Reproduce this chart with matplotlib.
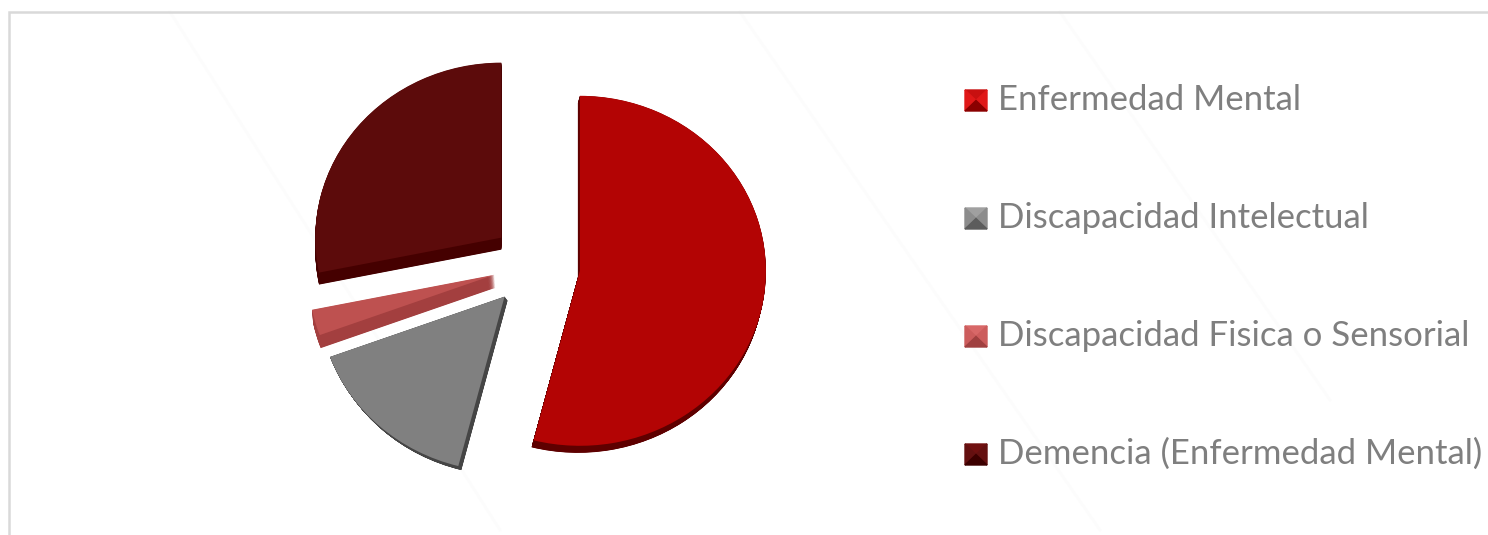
import matplotlib
matplotlib.use('Agg')
import matplotlib.pyplot as plt
from matplotlib.patches import Polygon

W, H = 1488, 535

# percent of the whole
labels = ['Enfermedad Mental', 'Discapacidad Intelectual',
          'Discapacidad Fisica o Sensorial', 'Demencia (Enfermedad Mental)']
values = [54.0, 15.4, 2.4, 28.2]

explode = [0.265, 0.22, 0.205, 0.22]
top_colors = ['#B30404', '#808080', '#BE5150', '#5C0B0B']
side_colors = ['#5E0000', '#454545', '#A33F3F', '#450000']
side_shift = [(-2, 7), (3, 4), (1, 13), (0, 12)]
nudge = [(0, 0), (1, 3), (0, 0), (2, -3)]
swatch_top = ['#C81010', '#A0A0A0', '#D86868', '#701010']
swatch_side = ['#E01818', '#8C8C8C', '#CC5C5C', '#641010']
swatch_bottom = ['#8A0000', '#5C5C5C', '#A04040', '#3C0000']
label_y = [99, 217, 335, 453]

fig = plt.figure(figsize=(W / 100, H / 100), dpi=100, facecolor='white')

# pixel-coordinate overlay for frame and legend
bg = fig.add_axes([0, 0, 1, 1])
bg.set_xlim(0, W)
bg.set_ylim(H, 0)
bg.axis('off')

# faint background streaks
for x0, y0, x1, y1 in [(170, 12, 500, 530), (740, 12, 1100, 530), (1060, 12, 1330, 400)]:
    bg.plot([x0, x1], [y0, y1], color='#FCFCFC', lw=2, zorder=0)

bg.plot([8.5, 8.5, W], [H, 11.5, 11.5], color='#D9D9D9', lw=1.8, zorder=1,
        solid_joinstyle='miter')

# pie axes, stretched so the pie comes out as a flat ellipse
cx, cy = 531, 265
rx, ry = 186, 175
span = 1.4
pos = [(cx - span * rx) / W, 1 - (cy + span * ry) / H, 2 * span * rx / W, 2 * span * ry / H]
ax = fig.add_axes(pos)
ax.patch.set_alpha(0)

# side of each slice: stack of shifted copies, then the top surface over it
steps = 30
for i in range(steps, 0, -1):
    sides, _ = ax.pie(values, explode=explode, colors=side_colors, startangle=90, counterclock=False)
    for w, (dx, dy), (nx, ny) in zip(sides, side_shift, nudge):
        x, y = w.center
        w.set_center((x + (nx + dx * i / steps) / rx, y - (ny + dy * i / steps) / ry))
tops, _ = ax.pie(values, explode=explode, colors=top_colors, startangle=90, counterclock=False)
for w, (nx, ny) in zip(tops, nudge):
    x, y = w.center
    w.set_center((x + nx / rx, y - ny / ry))
ax.set_aspect('auto')
ax.set_xlim(-span, span)
ax.set_ylim(-span, span)
ax.axis('off')

# legend: bevelled squares and labels
for i, (name, y) in enumerate(zip(labels, label_y)):
    x0, x1 = 965, 987
    y0, y1 = y - 9, y + 12
    mx, my = (x0 + x1) / 2, (y0 + y1) / 2
    bg.add_patch(Polygon([(x0, y0), (x1, y0), (mx, my)], color=swatch_top[i], zorder=4))
    bg.add_patch(Polygon([(x0, y0), (x0, y1), (mx, my)], color=swatch_side[i], zorder=4))
    bg.add_patch(Polygon([(x1, y0), (x1, y1), (mx, my)], color=swatch_side[i], zorder=4))
    bg.add_patch(Polygon([(x0, y1), (x1, y1), (mx, my)], color=swatch_bottom[i], zorder=4))
    bg.text(998, y + 1, name, fontsize=25, family='Lato', color='#7F7F7F',
            va='center', ha='left')

fig.savefig('out.png', dpi=100)
plt.close(fig)
